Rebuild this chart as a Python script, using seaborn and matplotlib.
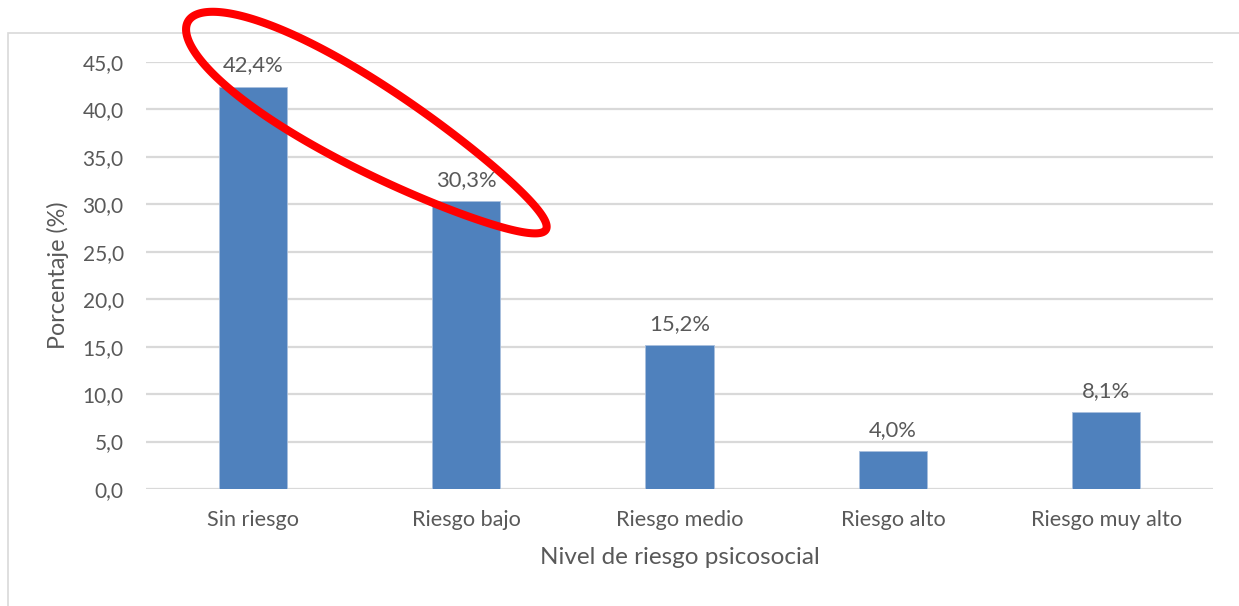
import matplotlib
matplotlib.use("Agg")
import matplotlib.pyplot as plt
import seaborn as sns
import pandas as pd
import numpy as np
from matplotlib.patches import Rectangle, PathPatch
from matplotlib.path import Path
from matplotlib.ticker import FuncFormatter, MultipleLocator
import matplotlib.transforms as mtransforms

categories = ["Sin riesgo", "Riesgo bajo", "Riesgo medio", "Riesgo alto", "Riesgo muy alto"]
values = [42.4, 30.3, 15.2, 4.0, 8.1]
y_label = "Porcentaje (%)"
x_label = "Nivel de riesgo psicosocial"

sns.set_theme(style="white")
plt.rcParams["font.family"] = ["Lato", "DejaVu Sans"]
TXT = "#595959"
GRID = "#d9d9d9"
BAR = "#4f81bd"

W, H = 1239, 606
fig = plt.figure(figsize=(W / 100, H / 100), dpi=100)
ax = fig.add_axes([146 / W, 1 - 489 / H, (1213 - 146) / W, (489 - 62) / H])

df = pd.DataFrame({"cat": categories, "val": values})
sns.barplot(data=df, x="cat", y="val", color=BAR, width=0.32, saturation=1, ax=ax,
            edgecolor="#a9c0de", linewidth=0.6)

ax.set_ylim(0, 45)
ax.set_xlim(-0.5, len(categories) - 0.5)
ax.yaxis.set_major_locator(MultipleLocator(5))
ax.yaxis.set_major_formatter(FuncFormatter(lambda v, p: f"{v:.1f}".replace(".", ",")))
ax.grid(axis="y", color=GRID, linewidth=1.6)
ax.set_axisbelow(True)
for s in ax.spines.values():
    s.set_visible(False)
ax.tick_params(axis="y", length=0, labelsize=15, colors=TXT, pad=16)
ax.tick_params(axis="x", length=0, labelsize=15.6, colors=TXT, pad=15)
ax.set_ylabel(y_label, fontsize=16.8, color=TXT, labelpad=10)
ax.set_xlabel(x_label, fontsize=17.5, color=TXT, labelpad=12)

labels = [f"{v:.1f}".replace(".", ",") + "%" for v in values]
ax.bar_label(ax.containers[0], labels=labels, padding=8, fontsize=15.8, color=TXT)

# chart border (partially visible: left and top)
fig.patches.append(Rectangle((8 / W, -0.1), 1.2, 1 - 33 / H + 0.1, transform=fig.transFigure,
                             fill=False, edgecolor=GRID, linewidth=1.2))

# hand-drawn-like red loop annotation (slightly egg-shaped ellipse), in pixel units
cx, cy = 367, 125.5
semi_a, semi_b, skew = 207, 43, 0.25
phi = np.deg2rad(30.2)
t = np.linspace(0, 2 * np.pi, 361)
bt = semi_b * (1 - skew * np.cos(t))
u = np.array([np.cos(phi), np.sin(phi)])
v = np.array([-np.sin(phi), np.cos(phi)])
px = cx + semi_a * np.cos(t) * u[0] + bt * np.sin(t) * v[0]
py = cy + semi_a * np.cos(t) * u[1] + bt * np.sin(t) * v[1]
loop = Path(np.column_stack([px, H - py]), closed=True)
fig.patches.append(PathPatch(loop, fill=False, edgecolor="#ff0000", linewidth=5.8,
                             transform=mtransforms.IdentityTransform(), clip_on=False))

fig.savefig("out.png", dpi=100)
